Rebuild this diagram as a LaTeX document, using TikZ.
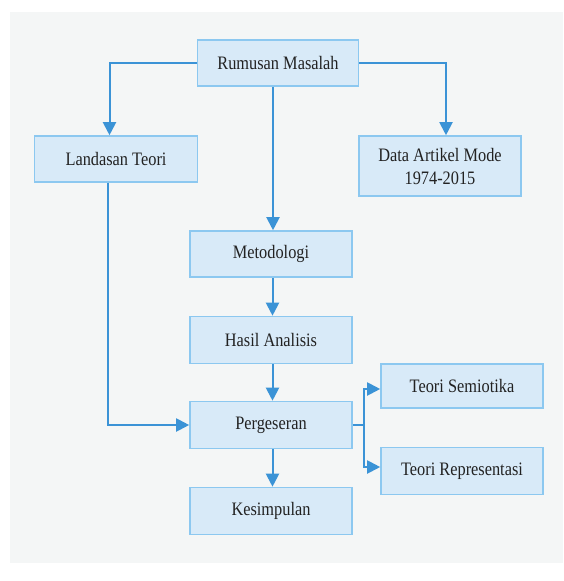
\documentclass[tikz,border=0pt]{standalone}
\usepackage{fontspec}
\setmainfont[FakeStretch=0.86]{Liberation Serif}
\usetikzlibrary{arrows.meta}
\definecolor{bgc}{HTML}{F4F6F6}
\definecolor{boxfill}{HTML}{D8EAF8}
\definecolor{boxline}{HTML}{8CC8F0}
\definecolor{linec}{HTML}{3B93D6}
\definecolor{txtc}{HTML}{222222}
\tikzset{
  box/.style={draw=boxline, fill=boxfill, line width=1.6pt, inner sep=0pt,
    minimum width=162pt, minimum height=46pt, align=center, text=txtc,
    font=\fontsize{19}{23}\selectfont},
  conn/.style={draw=linec, line width=2pt, -{Triangle[length=13pt,width=13pt]}},
  plain/.style={draw=linec, line width=2pt}
}
\begin{document}
\begin{tikzpicture}[x=1pt,y=-1pt]
\useasboundingbox (0,0) rectangle (563,581);
\fill[white] (0,0) rectangle (563,581);
\fill[bgc] (10,12) rectangle (563,563);
\node[box, minimum width=161pt] (rm) at (278,63) {Rumusan Masalah};
\node[box, minimum width=163pt] (lt) at (116,159) {Landasan Teori};
\node[box, minimum height=60pt] (da) at (440,166) {Data Artikel Mode\\1974-2015};
\node[box] (me) at (271,254) {Metodologi};
\node[box, minimum height=47pt] (ha) at (271,340) {Hasil Analisis};
\node[box, minimum height=47pt] (pe) at (271,425) {Pergeseran};
\node[box, minimum height=47pt] (ke) at (271,511) {Kesimpulan};
\node[box, minimum height=44pt] (ts) at (462,386) {Teori Semiotika};
\node[box, minimum height=47pt] (tr) at (462,471) {Teori Representasi};
% connectors
\draw[conn] (rm.west) -| ([xshift=-6.5pt]lt.north);
\draw[conn] (rm.east) -| ([xshift=6pt]da.north);
\draw[conn] ([xshift=-5pt]rm.south) -- ([xshift=-5pt]rm.south |- me.north);
\draw[conn] ([xshift=1.5pt]me.south) -- ([xshift=1.5pt]ha.north);
\draw[conn] ([xshift=1.5pt]ha.south) -- ([xshift=1.5pt]pe.north);
\draw[conn] ([xshift=1.5pt]pe.south) -- ([xshift=1.5pt]ke.north);
\draw[conn] ([xshift=-8pt]lt.south) |- (pe.west);
\coordinate (br) at (364,425);
\draw[plain] (pe.east) -- (br);
\draw[conn] (br) |- ([yshift=-3pt]ts.west);
\draw[conn] (br) |- ([yshift=4pt]tr.west);
\end{tikzpicture}
\end{document}
